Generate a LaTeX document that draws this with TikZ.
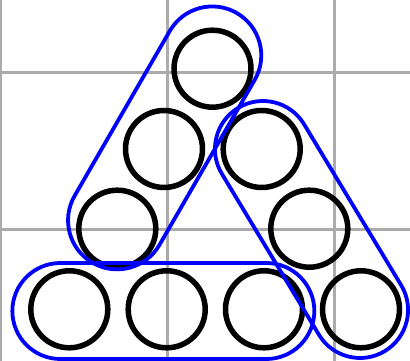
\documentclass[tikz,border=0pt]{standalone}
\begin{document}
\begin{tikzpicture}[x=1pt,y=1pt,
  gridline/.style={draw=black!33, line width=3.5pt},
  ball/.style={circle, draw=black, line width=5.5pt, minimum size=77pt, inner sep=0pt, outer sep=0pt},
  group/.style={rectangle, draw=blue, line width=3.8pt, inner sep=0pt, outer sep=0pt, fill=none}]
\useasboundingbox (0,0) rectangle (410,361);
% grid
\coordinate (gv0b) at (0.7,0);   \coordinate (gv0t) at (0.7,361);
\coordinate (gv1b) at (167.7,0); \coordinate (gv1t) at (167.7,361);
\coordinate (gv2b) at (334.3,0); \coordinate (gv2t) at (334.3,361);
\coordinate (gh1l) at (0,288.7); \coordinate (gh1r) at (410,288.7);
\coordinate (gh2l) at (0,131.7); \coordinate (gh2r) at (410,131.7);
\draw[gridline] (gv0b) -- (gv0t);
\draw[gridline] (gv1b) -- (gv1t);
\draw[gridline] (gv2b) -- (gv2t);
\draw[gridline] (gh1l) -- (gh1r);
\draw[gridline] (gh2l) -- (gh2r);
% balls
\node[ball] (c1) at (212.5,292.3) {};
\node[ball] (c2) at (164,212) {};
\node[ball] (c3) at (261.7,212) {};
\node[ball] (c4) at (117.3,132.3) {};
\node[ball] (c5) at (309.3,132.3) {};
\node[ball] (c6) at (69.3,51.7) {};
\node[ball] (c7) at (166.7,51.7) {};
\node[ball] (c8) at (264,51.7) {};
\node[ball] (c9) at (361,51.7) {};
% groups (stadiums)
\node[group, rounded corners=49pt, minimum width=288.4pt, minimum height=98pt, rotate=60] (gleft) at (164.65,223.1) {};
\node[group, rounded corners=48pt, minimum width=284pt, minimum height=96pt, rotate=-58.9] (gright) at (311.5,131.5) {};
\node[group, rounded corners=48pt, minimum width=302pt, minimum height=96pt] (gbottom) at (163.35,50) {};
\end{tikzpicture}
\end{document}
